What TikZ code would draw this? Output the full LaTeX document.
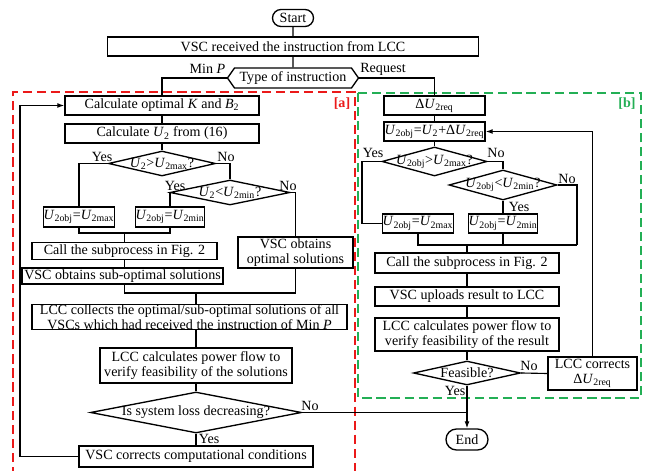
\documentclass[tikz,border=0pt]{standalone}
\usepackage{fontspec}
\setmainfont{Liberation Serif}
\usetikzlibrary{shapes.geometric,shapes.misc,shapes.symbols,arrows.meta}
\definecolor{boxred}{RGB}{235,25,25}
\definecolor{boxgreen}{RGB}{35,175,85}
\newcommand{\U}[1]{\textit{U}\textsubscript{#1}}
\newcommand{\ztext}[1]{\makebox[0pt]{#1}}

\begin{document}
\begin{tikzpicture}[x=0.025cm, y=-0.025cm, font=\fontsize{10}{10.8}\selectfont,
  line width=0.8pt,
  sz/.style 2 args={minimum width=#1*0.025cm, minimum height=#2*0.025cm},
  blk/.style={draw, line width=0.95pt, rectangle, inner sep=0pt, align=center},
  dec/.style={draw, line width=0.95pt, diamond, inner sep=0pt},
  term/.style={draw, line width=0.95pt, rounded rectangle, inner sep=0pt},
  lbl/.style={inner sep=0pt},
  arr/.style={-{Latex[length=5pt,width=3.5pt]}},
  zone/.style={line width=1pt, dash pattern=on 6.5pt off 3.5pt}]
\useasboundingbox (0,0) rectangle (652,471);

\draw[zone, boxred] (13,476) -- (13,92) -- (355,92) -- (355,476);
\draw[zone, boxgreen] (358,93) rectangle (641,398);
\node[lbl, boxred] at (342,104) {\textbf{[a]}};
\node[lbl, boxgreen] at (627,104) {\textbf{[b]}};

\node[term, sz={41}{17}] (start) at (293,18) {Start};
\node[blk, sz={371}{19}] (recv) at (293,46.5) {VSC received the instruction from LCC};
\node[draw, line width=0.95pt, signal, signal to=west and east, signal pointer angle=110,
  inner sep=0pt, sz={131}{20}] (type) at (293,78) {Type of instruction};
\node[lbl] at (207.5,69) {Min \textit{P}};
\node[lbl] at (383,69) {Request};

% [a] Min P
\node[blk, sz={194}{19}] (calcK) at (162,105.5) {Calculate optimal \textit{K} and \textit{B}\textsubscript{2}};
\node[blk, sz={194}{19}] (calcU) at (162,133.5) {Calculate \U{2} from (16)};
\node[dec, sz={107}{25}] (d1) at (162,163.5) {\ztext{\U{2}>\U{2max}?}};
\node[dec, sz={120}{25}] (d2) at (230,192.5) {\ztext{\U{2}<\U{2min}?}};
\node[blk, sz={68}{20}] (maxL) at (79,217) {\U{2obj}=\U{2max}};
\node[blk, sz={68}{20}] (minL) at (170,217) {\U{2obj}=\U{2min}};
\node[blk, sz={115}{31}] (optL) at (295.5,252.5) {VSC obtains\\optimal solutions};
\node[blk, sz={185}{17}] (callL) at (124.5,251) {Call the subprocess in Fig. 2};
\node[blk, sz={201}{16}] (subL) at (122.5,276) {VSC obtains sub-optimal solutions};
\node[blk, sz={315}{24}] (collect) at (189.5,317) {LCC collects the optimal/sub-optimal solutions of all\\VSCs which had received the instruction of Min \textit{P}};
\node[blk, sz={192}{35}] (calcL) at (196,365.5) {LCC calculates power flow to\\verify feasibility of the solutions};
\node[dec, sz={211}{41}] (dL) at (196,412.5) {\ztext{Is system loss decreasing?}};
\node[blk, sz={234}{21}] (corr) at (196,456.5) {VSC corrects computational conditions};

% [b] Request
\node[blk, sz={101}{19}] (dreq) at (434.5,105.5) {Δ\U{2req}};
\node[blk, sz={101}{19}] (uobj) at (434.5,131.5) {\U{2obj}=\U{2}+Δ\U{2req}};
\node[dec, sz={105}{29}] (d3) at (434.5,161.5) {\ztext{\U{2obj}>\U{2max}?}};
\node[dec, sz={108}{30}] (d4) at (503,185) {\ztext{\U{2obj}<\U{2min}?}};
\node[blk, sz={68}{19}] (maxR) at (418,223.5) {\U{2obj}=\U{2max}};
\node[blk, sz={67}{19}] (minR) at (503,223.5) {\U{2obj}=\U{2min}};
\node[blk, sz={184}{20}] (callR) at (467,263) {Call the subprocess in Fig. 2};
\node[blk, sz={184}{19}] (upR) at (467,296.5) {VSC uploads result to LCC};
\node[blk, sz={184}{33}] (calcR) at (467,334.5) {LCC calculates power flow to\\verify feasibility of the result};
\node[dec, sz={107}{24}] (dF) at (467,373) {\ztext{Feasible?}};
\node[blk, sz={89}{33}] (fix) at (592.5,373.5) {LCC corrects\\Δ\U{2req}};
\node[term, sz={42}{21}] (fin) at (467,439.5) {End};

\coordinate (jL) at (124.5,233);
\coordinate (jL2) at (196,293);
\coordinate (fbL) at (20,0);
\coordinate (cY) at (362,0);
\coordinate (jR) at (467,245);
\coordinate (jR3) at (577,245);

\draw (start) -- (recv);
\draw (recv) -- (type);
\draw (type.west) -| (calcK.north);
\draw (type.east) -| (dreq.north);

\draw (calcK) -- (calcU);
\draw (calcU) -- (d1);
\draw (d1.west) -| (maxL.north);
\draw (d1.east) -| (d2.north);
\draw (d2.west) -| (minL.north);
\draw (d2.east) -| (optL.north);
\draw (maxL.south) |- (jL) -| (minL.south);
\draw (jL) -- (callL.north);
\draw (callL.south) -- (callL.south |- subL.north);
\draw (callL.south |- subL.south) |- (jL2) -| (optL.south);
\draw (jL2) -- (jL2 |- collect.north);
\draw (collect.south -| calcL.north) -- (calcL.north);
\draw (calcL) -- (dL);
\draw (dL) -- (corr);
\draw[arr] (corr.west) -| (fbL |- calcK.west) -- (calcK.west);
\draw (dL.east) -- (dL.east -| fin.north);

\node[lbl] at (102,157) {Yes};
\node[lbl] at (226,157) {No};
\node[lbl] at (175,186) {Yes};
\node[lbl] at (288,186) {No};
\node[lbl] at (310,406) {No};
\node[lbl] at (209,439) {Yes};

\draw (dreq) -- (uobj);
\draw (uobj) -- (d3);
\draw (d3.west) -- (cY |- d3.west) |- (maxR.west);
\draw (d3.east) -| (d4.north);
\draw (d4.south) -- (minR.north);
\draw (d4.east) -| (jR3);
\draw (maxR.south) |- (jR3);
\draw (minR.south) -- (minR.south |- jR);
\draw (jR) -- (callR.north);
\draw (callR) -- (upR);
\draw (upR) -- (calcR);
\draw (calcR) -- (dF);
\draw (dF.east) -- (fix.west);
\draw[arr] (fix.north) |- (uobj.east);
\draw[arr] (dF.south) -- (fin.north);

\node[lbl] at (373,153) {Yes};
\node[lbl] at (496,153) {No};
\node[lbl] at (567,179) {No};
\node[lbl] at (519,207) {Yes};
\node[lbl] at (529,366) {No};
\node[lbl] at (455,391) {Yes};
\end{tikzpicture}
\end{document}
